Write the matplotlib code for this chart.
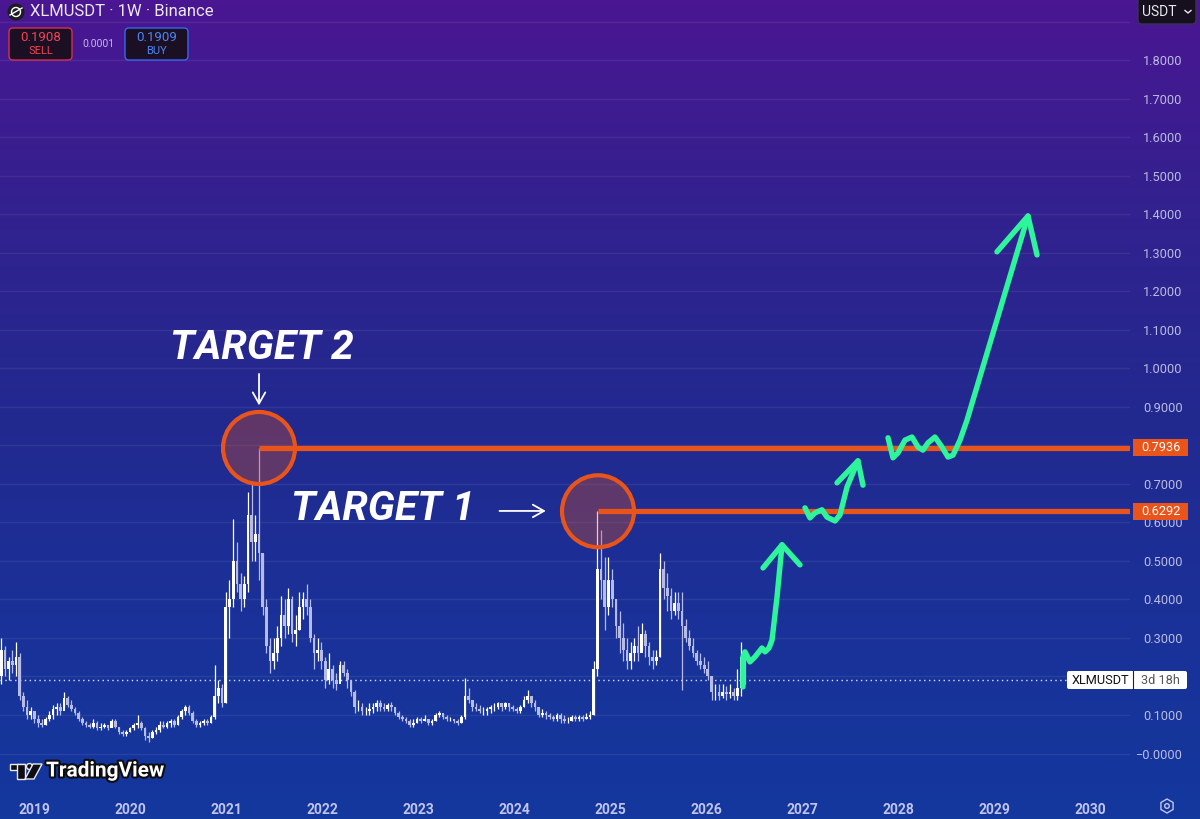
import numpy as np
import matplotlib
matplotlib.use('Agg')
import matplotlib.pyplot as plt
import matplotlib.transforms as mtransforms
import matplotlib.patheffects as pe
from matplotlib.patches import Ellipse, FancyBboxPatch, Circle, Polygon, RegularPolygon, Rectangle
from matplotlib.colors import LinearSegmentedColormap

plt.rcParams['font.family'] = ['Roboto', 'DejaVu Sans']

# XLMUSDT candles, two weeks each, starting Sept 2018 (x in decimal years)
start_year = 2018.66
step = 2 / 52.18

closes = [
    0.27, 0.22, 0.24, 0.23, 0.25, 0.15, 0.12, 0.10, 0.11, 0.09,
    0.08, 0.075, 0.09, 0.10, 0.115, 0.12, 0.11, 0.145, 0.125, 0.115,
    0.105, 0.09, 0.08, 0.075, 0.07, 0.08, 0.065, 0.07, 0.075, 0.065,
    0.085, 0.07, 0.055, 0.05, 0.055, 0.065, 0.075, 0.08, 0.065, 0.045,
    0.04, 0.055, 0.06, 0.075, 0.07, 0.08, 0.085, 0.075, 0.095, 0.11,
    0.12, 0.105, 0.085, 0.075, 0.08, 0.085, 0.08, 0.095, 0.15, 0.17,
    0.13, 0.38, 0.40, 0.50, 0.44, 0.40, 0.44, 0.62, 0.55, 0.57,
    0.52, 0.38, 0.28, 0.24, 0.26, 0.30, 0.36, 0.33, 0.40, 0.31,
    0.32, 0.38, 0.40, 0.38, 0.30, 0.26, 0.27, 0.24, 0.19, 0.22,
    0.19, 0.18, 0.23, 0.21, 0.19, 0.16, 0.12, 0.12, 0.11, 0.11,
    0.115, 0.12, 0.13, 0.12, 0.115, 0.125, 0.12, 0.105, 0.095, 0.09,
    0.085, 0.075, 0.08, 0.09, 0.085, 0.09, 0.08, 0.085, 0.10, 0.105,
    0.095, 0.09, 0.09, 0.085, 0.08, 0.095, 0.15, 0.14, 0.12, 0.115,
    0.11, 0.11, 0.115, 0.12, 0.12, 0.13, 0.12, 0.13, 0.12, 0.115,
    0.11, 0.12, 0.14, 0.15, 0.13, 0.12, 0.10, 0.105, 0.10, 0.095,
    0.09, 0.10, 0.09, 0.085, 0.085, 0.095, 0.09, 0.095, 0.09, 0.095,
    0.10, 0.22, 0.48, 0.45, 0.38, 0.45, 0.40, 0.33, 0.30, 0.27,
    0.24, 0.26, 0.28, 0.26, 0.31, 0.28, 0.25, 0.24, 0.25, 0.48,
    0.43, 0.41, 0.37, 0.39, 0.37, 0.33, 0.30, 0.28, 0.26, 0.24,
    0.23, 0.22, 0.20, 0.16, 0.16, 0.15, 0.16, 0.155, 0.16, 0.15,
    0.17, 0.25, 0.19,
]
highs = [
    0.30, 0.28, 0.25, 0.27, 0.29, 0.26, 0.16, 0.14, 0.12, 0.11,
    0.10, 0.09, 0.095, 0.11, 0.125, 0.13, 0.13, 0.16, 0.15, 0.14,
    0.12, 0.11, 0.095, 0.085, 0.08, 0.09, 0.085, 0.08, 0.08, 0.075,
    0.09, 0.09, 0.07, 0.06, 0.06, 0.07, 0.08, 0.10, 0.085, 0.07,
    0.055, 0.06, 0.07, 0.085, 0.085, 0.085, 0.09, 0.09, 0.10, 0.115,
    0.125, 0.125, 0.11, 0.09, 0.085, 0.09, 0.09, 0.10, 0.23, 0.19,
    0.18, 0.42, 0.45, 0.61, 0.55, 0.47, 0.46, 0.68, 0.70, 0.62,
    0.7936, 0.52, 0.40, 0.30, 0.30, 0.33, 0.41, 0.40, 0.43, 0.41,
    0.36, 0.42, 0.42, 0.44, 0.40, 0.31, 0.30, 0.29, 0.25, 0.26,
    0.23, 0.21, 0.24, 0.24, 0.22, 0.19, 0.165, 0.14, 0.13, 0.12,
    0.13, 0.13, 0.14, 0.14, 0.13, 0.13, 0.135, 0.12, 0.11, 0.10,
    0.095, 0.09, 0.09, 0.095, 0.095, 0.10, 0.09, 0.09, 0.105, 0.11,
    0.105, 0.10, 0.095, 0.09, 0.09, 0.10, 0.196, 0.17, 0.14, 0.13,
    0.125, 0.12, 0.12, 0.125, 0.13, 0.135, 0.13, 0.135, 0.13, 0.125,
    0.12, 0.125, 0.15, 0.165, 0.15, 0.14, 0.12, 0.115, 0.11, 0.105,
    0.10, 0.105, 0.105, 0.10, 0.095, 0.10, 0.10, 0.10, 0.10, 0.105,
    0.11, 0.24, 0.6292, 0.58, 0.51, 0.51, 0.48, 0.40, 0.37, 0.34,
    0.30, 0.29, 0.30, 0.33, 0.34, 0.32, 0.29, 0.27, 0.27, 0.52,
    0.50, 0.47, 0.43, 0.42, 0.42, 0.42, 0.35, 0.32, 0.30, 0.27,
    0.26, 0.25, 0.24, 0.20, 0.18, 0.18, 0.18, 0.175, 0.18, 0.17,
    0.22, 0.29, 0.27,
]
lows = [
    0.18, 0.20, 0.19, 0.21, 0.20, 0.14, 0.11, 0.09, 0.09, 0.08,
    0.07, 0.07, 0.075, 0.085, 0.09, 0.10, 0.10, 0.12, 0.12, 0.11,
    0.10, 0.085, 0.075, 0.07, 0.065, 0.065, 0.06, 0.06, 0.065, 0.06,
    0.07, 0.065, 0.05, 0.045, 0.045, 0.055, 0.06, 0.065, 0.06, 0.035,
    0.03, 0.04, 0.05, 0.055, 0.065, 0.065, 0.07, 0.07, 0.075, 0.09,
    0.10, 0.10, 0.08, 0.07, 0.07, 0.075, 0.075, 0.08, 0.09, 0.13,
    0.12, 0.13, 0.30, 0.38, 0.42, 0.37, 0.38, 0.42, 0.50, 0.50,
    0.45, 0.36, 0.26, 0.21, 0.22, 0.24, 0.28, 0.30, 0.31, 0.29,
    0.28, 0.32, 0.35, 0.36, 0.29, 0.22, 0.24, 0.22, 0.17, 0.18,
    0.17, 0.165, 0.19, 0.20, 0.17, 0.15, 0.105, 0.11, 0.10, 0.10,
    0.10, 0.105, 0.11, 0.11, 0.11, 0.11, 0.11, 0.10, 0.09, 0.085,
    0.08, 0.07, 0.07, 0.08, 0.08, 0.085, 0.075, 0.075, 0.085, 0.095,
    0.09, 0.085, 0.085, 0.08, 0.075, 0.08, 0.09, 0.13, 0.11, 0.11,
    0.105, 0.10, 0.10, 0.105, 0.11, 0.115, 0.11, 0.115, 0.11, 0.11,
    0.105, 0.105, 0.12, 0.13, 0.12, 0.11, 0.095, 0.095, 0.09, 0.09,
    0.085, 0.085, 0.08, 0.08, 0.08, 0.085, 0.085, 0.085, 0.085, 0.09,
    0.09, 0.10, 0.20, 0.40, 0.32, 0.36, 0.38, 0.30, 0.26, 0.24,
    0.22, 0.22, 0.24, 0.24, 0.27, 0.25, 0.23, 0.22, 0.23, 0.25,
    0.40, 0.37, 0.35, 0.36, 0.35, 0.165, 0.29, 0.27, 0.25, 0.23,
    0.22, 0.21, 0.19, 0.14, 0.14, 0.14, 0.145, 0.14, 0.145, 0.14,
    0.14, 0.15, 0.18,
]
first_open = 0.20
last_price = 0.19

# target levels
target1 = 0.6292
target2 = 0.7936
target1_year = 2024.875
target2_year = 2021.344

# hand drawn projection arrows (year, price)
path1_x = [2026.385, 2026.385, 2026.406, 2026.458, 2026.510, 2026.583, 2026.615,
           2026.656, 2026.688, 2026.740, 2026.792]
path1_y = [0.173, 0.251, 0.264, 0.238, 0.251, 0.274, 0.264, 0.274, 0.295, 0.407, 0.542]
head1_x = [2026.594, 2026.792, 2026.979]
head1_y = [0.482, 0.542, 0.490]
path2_x = [2027.031, 2027.083, 2027.135, 2027.208, 2027.260, 2027.344, 2027.396,
           2027.469, 2027.583]
path2_y = [0.638, 0.612, 0.625, 0.633, 0.614, 0.604, 0.620, 0.692, 0.760]
head2_x = [2027.365, 2027.583, 2027.635]
head2_y = [0.703, 0.760, 0.697]
path3_x = [2027.896, 2027.948, 2028.000, 2028.073, 2028.146, 2028.208, 2028.260,
           2028.313, 2028.385, 2028.458, 2028.521, 2028.573, 2028.646, 2028.719, 2029.354]
path3_y = [0.820, 0.768, 0.781, 0.814, 0.822, 0.796, 0.788, 0.807, 0.822, 0.796,
           0.770, 0.775, 0.814, 0.866, 1.396]
head3_x = [2029.031, 2029.354, 2029.448]
head3_y = [1.303, 1.396, 1.295]

years = list(range(2019, 2031))
price_ticks = [round(0.1 * k, 1) for k in range(0, 20)]
# 0.8, 0.2 and 1.9 sit under the price tags / currency button
price_labels = ['\u22120.0000'] + ['%.4f' % v for v in price_ticks[1:]]
for hidden in (0.2, 0.8, 1.9):
    price_labels[price_ticks.index(hidden)] = ''

W, H = 1200, 819
fig = plt.figure(figsize=(12, 8.19), dpi=100)

# background gradient (purple at top -> blue at bottom)
bg = fig.add_axes([0, 0, 1, 1], zorder=0)
bg.axis('off')
cmap = LinearSegmentedColormap.from_list('tv', ['#4a1692', '#33218f', '#22298f', '#1a3198', '#13389e'])
bg.imshow(np.linspace(0, 1, 256).reshape(-1, 1), aspect='auto', cmap=cmap,
          extent=[0, 1, 0, 1], origin='upper')
bg.set_xlim(0, 1)
bg.set_ylim(0, 1)

# main price axes
ax = fig.add_axes([0, 29 / H, 1130 / W, 790 / H], zorder=1)
ax.patch.set_visible(False)
ax.set_xlim(2018.6458, 2030.4167)
ax.set_ylim(-0.0948, 1.9571)
for s in ax.spines.values():
    s.set_visible(False)

ax.set_yticks(price_ticks)
ax.set_yticklabels(price_labels)
ax.yaxis.tick_right()
ax.tick_params(axis='y', length=0, pad=38, labelsize=9.2, labelcolor='#b9bce3')
for lbl in ax.get_yticklabels():
    lbl.set_horizontalalignment('right')
ax.set_xticks(years)
ax.set_xticklabels([str(y) for y in years])
ax.tick_params(axis='x', length=0, pad=9, labelsize=10, labelcolor='#c0c4ea')
for lbl in ax.get_xticklabels():
    lbl.set_fontweight('bold')
ax.grid(axis='y', color='white', alpha=0.07, lw=1)
ax.grid(axis='x', visible=False)

# candles
xs = start_year + step * np.arange(len(closes))
opens = [first_open] + closes[:-1]
up = [c >= o for o, c in zip(opens, closes)]
cols = ['#ffffff' if u else '#b7bbea' for u in up]
ax.vlines(xs, lows, highs, colors=cols, lw=0.9, zorder=3)
ax.bar(xs, np.array(closes) - np.array(opens), bottom=opens, width=0.028,
       color=cols, linewidth=0, zorder=3)

# current price line
ax.axhline(last_price, color='white', lw=1, ls=(0, (1, 2.5)), alpha=0.85, zorder=2)

# target levels and circles
orange = '#e8541a'
blend = mtransforms.blended_transform_factory(ax.transAxes, ax.transData)
for yr, lvl in [(target2_year, target2), (target1_year, target1)]:
    ax.add_patch(Ellipse((yr, lvl), 0.75, 0.187, facecolor=(0.91, 0.33, 0.10, 0.32),
                         edgecolor=orange, lw=3, zorder=4))
    ax.plot([yr, 2030.4167], [lvl, lvl], color=orange, lw=3.8, zorder=5,
            solid_capstyle='butt')
    ax.add_patch(Rectangle((1.0027, lvl - 0.022), 0.0487, 0.044, transform=blend,
                           facecolor=orange, edgecolor='none', clip_on=False, zorder=6))
    ax.text(1.027, lvl, '%.4f' % lvl, transform=blend, ha='center', va='center',
            color='white', fontsize=9.2, clip_on=False, zorder=7)

# target labels
ax.text(2021.375, 1.053, 'TARGET 2', color='white', fontsize=29.5, fontweight='bold',
        style='italic', ha='center', va='center', zorder=6)
ax.text(2022.635, 0.635, 'TARGET 1', color='white', fontsize=29.5, fontweight='bold',
        style='italic', ha='center', va='center', zorder=6)
ax.annotate('', xy=(target2_year, 0.897), xytext=(target2_year, 0.993),
            arrowprops=dict(arrowstyle='->,head_length=0.8,head_width=0.45',
                            color='white', lw=1.3), zorder=6)
ax.annotate('', xy=(2024.36, 0.630), xytext=(2023.82, 0.630),
            arrowprops=dict(arrowstyle='->,head_length=0.8,head_width=0.45',
                            color='white', lw=1.3), zorder=6)

# green projection arrows
green = '#2ef59b'
for px, py in [(path1_x, path1_y), (head1_x, head1_y), (path2_x, path2_y),
               (head2_x, head2_y), (path3_x, path3_y), (head3_x, head3_y)]:
    ax.plot(px, py, color=green, lw=3.9, solid_capstyle='round',
            solid_joinstyle='round', zorder=6)

# chrome overlay in pixel coords
ov = fig.add_axes([0, 0, 1, 1], zorder=5)
ov.patch.set_visible(False)
ov.axis('off')
ov.set_xlim(0, W)
ov.set_ylim(H, 0)

ov.add_patch(Circle((16, 12), 8.5, facecolor='#1c1c22', edgecolor='none'))
ov.add_patch(Circle((16, 12), 4.5, facecolor='none', edgecolor='white', lw=1))
ov.plot([10, 22], [15, 8], color='white', lw=1)
ov.text(30, 12, 'XLMUSDT \u00b7 1W \u00b7 Binance', color='#ece6f7', fontsize=12, va='center')

ov.add_patch(FancyBboxPatch((9, 28), 63, 32, boxstyle='round,pad=0,rounding_size=4',
                            facecolor='#1b0f24', edgecolor='#d83048', lw=1))
ov.text(40.5, 37.5, '0.1908', color='#f2434f', fontsize=9.5, ha='center', va='center')
ov.text(40.5, 51, 'SELL', color='#f2434f', fontsize=8, ha='center', va='center')
ov.text(98, 44, '0.0001', color='#c4b6e4', fontsize=7.5, ha='center', va='center')
ov.add_patch(FancyBboxPatch((125, 28), 63, 32, boxstyle='round,pad=0,rounding_size=4',
                            facecolor='#1b0f24', edgecolor='#3567ec', lw=1))
ov.text(156.5, 37.5, '0.1909', color='#4d86f4', fontsize=9.5, ha='center', va='center')
ov.text(156.5, 51, 'BUY', color='#4d86f4', fontsize=8, ha='center', va='center')

ov.add_patch(FancyBboxPatch((1138, -6), 58, 30, boxstyle='round,pad=0,rounding_size=4',
                            facecolor='#16101e', edgecolor='#3b3152', lw=1))
ov.text(1159, 12, 'USDT', color='#e8e8ee', fontsize=10, ha='center', va='center')
ov.plot([1185, 1188, 1191], [10.5, 13, 10.5], color='#e8e8ee', lw=1)

# last price tag
ov.add_patch(FancyBboxPatch((1067, 671), 120, 18, boxstyle='round,pad=0,rounding_size=2',
                            facecolor='white', edgecolor='none'))
ov.plot([1133, 1133], [671, 689], color='#222222', lw=0.8)
ov.text(1100, 680.5, 'XLMUSDT', color='#111111', fontsize=9.2, ha='center', va='center')
ov.text(1160, 680.5, '3d 18h', color='#555555', fontsize=9.2, ha='center', va='center')

# settings icon
ov.add_patch(RegularPolygon((1167, 806), 6, radius=7, orientation=0,
                            facecolor='none', edgecolor='#c0c4ea', lw=1))
ov.add_patch(Circle((1167, 806), 2.3, facecolor='none', edgecolor='#c0c4ea', lw=1))

# TradingView watermark
for patch in [Rectangle((10, 764), 15, 6), Rectangle((17, 764), 8, 15),
              Circle((29.5, 766.5), 3), Polygon([(33, 764), (42, 764), (34, 779), (25, 779)])]:
    patch.set_facecolor('#0d0d12')
    patch.set_edgecolor('#e8e8f0')
    patch.set_linewidth(1)
    ov.add_patch(patch)
ov.text(46, 771, 'TradingView', color='white', fontsize=15, fontweight='bold', va='center',
        path_effects=[pe.withStroke(linewidth=3, foreground='#0d0d12')])

fig.savefig('out.png', dpi=100)
